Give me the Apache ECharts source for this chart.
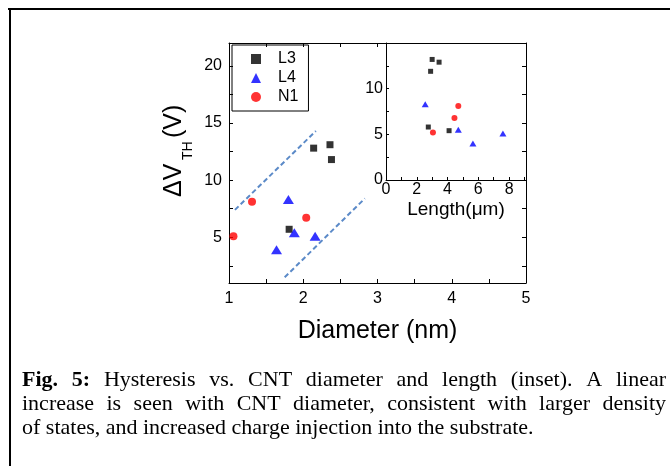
<!DOCTYPE html>
<html>
<head>
<meta charset="utf-8">
<script src="https://cdn.jsdelivr.net/npm/echarts@6/dist/echarts.min.js"></script>
<style>
  html, body { margin: 0; padding: 0; background: #fff; }
  #chart { width: 672px; height: 466px; }
</style>
</head>
<body>
<div id="chart"></div>
<script>
// Hysteresis (ΔV_TH) versus CNT diameter, per device group
const diameterL3 = [2.14, 2.36, 2.38, 1.81];
const dvthL3     = [12.8, 13.1, 11.8, 5.7];
const diameterL4 = [1.80, 1.88, 2.16, 1.64];
const dvthL4     = [8.3, 5.4, 5.1, 3.9];
const diameterN1 = [1.06, 1.31, 2.04];
const dvthN1     = [5.1, 8.1, 6.7];

// Inset: hysteresis versus CNT length
const lengthL3     = [3.0, 3.45, 2.9, 2.75, 4.1];
const dvthLengthL3 = [13.2, 12.9, 11.9, 5.8, 5.4];
const lengthL4     = [2.55, 4.7, 5.65, 7.6];
const dvthLengthL4 = [8.3, 5.5, 4.0, 5.1];
const lengthN1     = [3.05, 4.45, 4.7];
const dvthLengthN1 = [5.2, 6.8, 8.1];

// Dashed guide lines bracketing the linear trend (diameter, ΔV_TH)
const upperGuide = [[1.08, 7.4], [2.17, 14.3]];
const lowerGuide = [[1.75, 1.5], [2.83, 8.4]];

// Tick values
const diameterLabels = [1, 2, 3, 4, 5];
const diameterTicks  = [1.5, 2, 2.5, 3, 3.5, 4, 4.5];
const diameterTopTicks = [1.5, 2, 2.5, 3];
const dvthLabels = [5, 10, 15, 20];
const dvthTicks  = [2.5, 5, 7.5, 10, 12.5, 15, 17.5, 20];
const lengthLabels = [0, 2, 4, 6, 8];
const lengthTicks  = [1, 2, 3, 4, 5, 6, 7, 8, 9];
const insetDvthLabels = [0, 5, 10];
const insetDvthTicks  = [2.5, 5, 7.5, 10, 12.5];

const seriesNames = ['L3', 'L4', 'N1'];

// Caption lines (first two are justified)
const captionLines = [
  [{ t: 'Fig.', b: true }, { t: '5:', b: true }, 'Hysteresis', 'vs.', 'CNT', 'diameter', 'and', 'length', '(inset).', 'A', 'linear'],
  'increase is seen with CNT diameter, consistent with larger density'.split(' '),
  'of states, and increased charge injection into the substrate.'.split(' ')
];

const zip = (xs, ys) => xs.map((x, i) => [x, ys[i]]);

const SANS = '"Liberation Sans", Arial, sans-serif';
const SERIF = '"Liberation Serif", "Times New Roman", serif';
const axisLineStyle = { lineStyle: { color: '#000', width: 1 } };

function valueAxis(extra) {
  return Object.assign({
    type: 'value',
    splitLine: { show: false },
    axisLine: Object.assign({ show: true, onZero: false }, axisLineStyle),
    axisTick: { show: true, inside: true, length: 4, lineStyle: { color: '#000' } },
    axisLabel: { show: true, color: '#000', fontFamily: SANS, fontSize: 16 }
  }, extra);
}

// Caption layout: measure words so justified lines span the full width
const capFont = 22;
const capLeft = 22, capRight = 666;
const capTop = 380, capStep = 24;
const measureCtx = document.createElement('canvas').getContext('2d');
function wordWidth(w) {
  measureCtx.font = (w.b ? 'bold ' : '') + capFont + 'px ' + SERIF;
  return measureCtx.measureText(w.t).width;
}
const captionGraphics = [];
captionLines.forEach((line, li) => {
  const words = line.map(w => typeof w === 'string' ? { t: w, b: false } : w);
  const widths = words.map(wordWidth);
  const total = widths.reduce((a, b) => a + b, 0);
  measureCtx.font = capFont + 'px ' + SERIF;
  const normalGap = measureCtx.measureText(' ').width;
  const justify = li < captionLines.length - 1;
  const gap = justify ? (capRight - capLeft - total) / (words.length - 1) : normalGap;
  let x = capLeft;
  words.forEach((w, i) => {
    captionGraphics.push({
      type: 'text', x: x, y: capTop + li * capStep,
      style: {
        text: w.t, fill: '#000', fontFamily: SERIF, fontSize: capFont,
        fontWeight: w.b ? 'bold' : 'normal', verticalAlign: 'middle', align: 'left'
      }
    });
    x += widths[i] + gap;
  });
});

const chart = echarts.init(document.getElementById('chart'), null, { renderer: 'canvas' });

const option = {
  backgroundColor: '#fff',
  animation: false,
  grid: [
    { left: 229, top: 43, width: 297, height: 240 },
    { left: 386, top: 43, width: 140, height: 137 }
  ],
  legend: {
    data: seriesNames,
    orient: 'vertical',
    left: 232, top: 45,
    padding: [6, 10, 6, 19],
    itemGap: 3,
    itemWidth: 10, itemHeight: 10,
    borderColor: '#000', borderWidth: 1,
    textStyle: { color: '#000', fontFamily: SANS, fontSize: 16, padding: [0, 0, 0, 12] }
  },
  xAxis: [
    valueAxis({
      gridIndex: 0, min: 1, max: 5, position: 'bottom',
      name: 'Diameter (nm)', nameLocation: 'middle', nameGap: 36,
      nameTextStyle: { color: '#000', fontFamily: SANS, fontSize: 25 },
      axisTick: { show: true, inside: true, length: 4, customValues: diameterTicks, lineStyle: { color: '#000' } },
      axisLabel: { show: true, color: '#000', fontFamily: SANS, fontSize: 16, margin: 8, customValues: diameterLabels }
    }),
    valueAxis({
      gridIndex: 0, min: 1, max: 5, position: 'top',
      axisTick: { show: true, inside: true, length: 4, customValues: diameterTopTicks, lineStyle: { color: '#000' } },
      axisLabel: { show: false }
    }),
    valueAxis({
      gridIndex: 1, min: 0, max: 9.1, position: 'bottom',
      name: 'Length(μm)', nameLocation: 'middle', nameGap: 20,
      nameTextStyle: { color: '#000', fontFamily: SANS, fontSize: 19 },
      axisTick: { show: true, inside: true, length: 3, customValues: lengthTicks, lineStyle: { color: '#000' } },
      axisLabel: { show: true, color: '#000', fontFamily: SANS, fontSize: 16, margin: 2, customValues: lengthLabels }
    })
  ],
  yAxis: [
    valueAxis({
      gridIndex: 0, min: 1, max: 22, position: 'left',
      axisTick: { show: true, inside: true, length: 4, customValues: dvthTicks, lineStyle: { color: '#000' } },
      axisLabel: { show: true, color: '#000', fontFamily: SANS, fontSize: 16, margin: 7, customValues: dvthLabels }
    }),
    valueAxis({
      gridIndex: 0, min: 1, max: 22, position: 'right',
      axisTick: { show: true, inside: true, length: 4, customValues: dvthTicks, lineStyle: { color: '#000' } },
      axisLabel: { show: false }
    }),
    valueAxis({
      gridIndex: 1, min: 0, max: 15, position: 'left',
      axisTick: { show: true, inside: true, length: 3, customValues: insetDvthTicks, lineStyle: { color: '#000' } },
      axisLabel: { show: true, color: '#000', fontFamily: SANS, fontSize: 16, margin: 3, customValues: insetDvthLabels }
    })
  ],
  series: [
    { name: 'L3', type: 'scatter', xAxisIndex: 0, yAxisIndex: 0, symbol: 'rect', symbolSize: 7,
      itemStyle: { color: '#000' }, data: zip(diameterL3, dvthL3) },
    { name: 'L4', type: 'scatter', xAxisIndex: 0, yAxisIndex: 0, symbol: 'triangle', symbolSize: [11, 9],
      itemStyle: { color: '#0000ff' }, data: zip(diameterL4, dvthL4) },
    { name: 'N1', type: 'scatter', xAxisIndex: 0, yAxisIndex: 0, symbol: 'circle', symbolSize: 8,
      itemStyle: { color: '#ff0000' }, data: zip(diameterN1, dvthN1) },
    { type: 'line', xAxisIndex: 0, yAxisIndex: 0, symbol: 'none', silent: true,
      lineStyle: { color: '#5b8ac8', width: 2, type: [5, 3] }, data: upperGuide },
    { type: 'line', xAxisIndex: 0, yAxisIndex: 0, symbol: 'none', silent: true,
      lineStyle: { color: '#5b8ac8', width: 2, type: [5, 3] }, data: lowerGuide },
    { name: 'L3', type: 'scatter', xAxisIndex: 2, yAxisIndex: 2, symbol: 'rect', symbolSize: 5,
      itemStyle: { color: '#000' }, data: zip(lengthL3, dvthLengthL3) },
    { name: 'L4', type: 'scatter', xAxisIndex: 2, yAxisIndex: 2, symbol: 'triangle', symbolSize: [7, 6],
      itemStyle: { color: '#0000ff' }, data: zip(lengthL4, dvthLengthL4) },
    { name: 'N1', type: 'scatter', xAxisIndex: 2, yAxisIndex: 2, symbol: 'circle', symbolSize: 6,
      itemStyle: { color: '#ff0000' }, data: zip(lengthN1, dvthLengthN1) }
  ],
  graphic: [
    // figure frame (top and left edges)
    { type: 'line', shape: { x1: 8, y1: 9, x2: 670, y2: 9 }, style: { stroke: '#000', lineWidth: 2 } },
    { type: 'line', shape: { x1: 10, y1: 8, x2: 10, y2: 466 }, style: { stroke: '#000', lineWidth: 2 } },
    // rotated y-axis title ΔV_TH (V)
    {
      type: 'group', x: 179, y: 152, rotation: Math.PI / 2,
      children: [
        { type: 'text', x: -45, y: -5, style: { text: 'ΔV', fill: '#000', fontFamily: SANS, fontSize: 25, verticalAlign: 'middle' } },
        { type: 'text', x: -8, y: 9, style: { text: 'TH', fill: '#000', fontFamily: SANS, fontSize: 14, verticalAlign: 'middle' } },
        { type: 'text', x: 14, y: -5, style: { text: '(V)', fill: '#000', fontFamily: SANS, fontSize: 25, verticalAlign: 'middle' } }
      ]
    }
  ].concat(captionGraphics)
};

chart.setOption(option);
</script>
</body>
</html>
